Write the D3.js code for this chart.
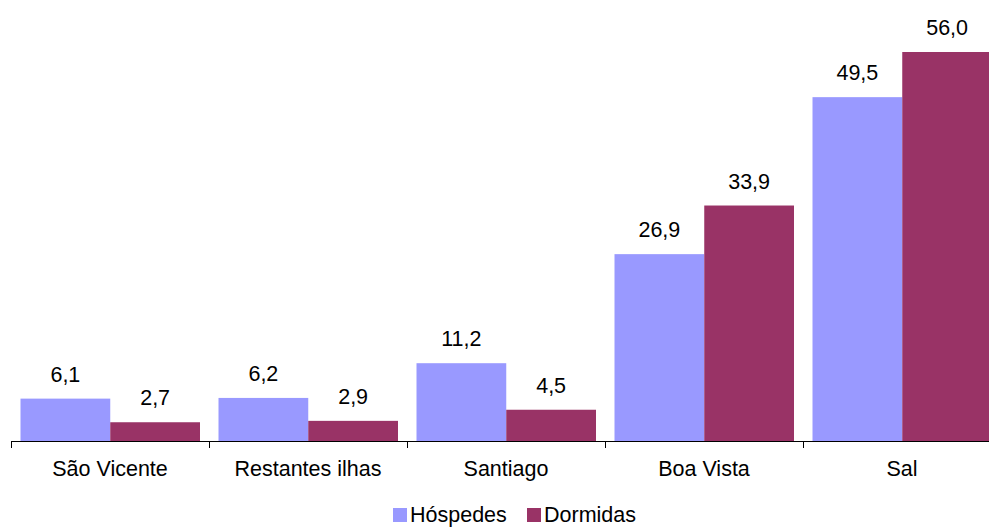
<!DOCTYPE html>
<html>
<head>
<meta charset="utf-8">
<script src="https://cdn.jsdelivr.net/npm/d3@7"></script>
<style>
  html, body { margin: 0; padding: 0; background: #fff; overflow: hidden; }
  text { font-family: "Liberation Sans", Arial, sans-serif; fill: #000; }
</style>
</head>
<body>
<div id="chart"></div>
<script>
// chart data
var categories = ["São Vicente", "Restantes ilhas", "Santiago", "Boa Vista", "Sal"];
var seriesNames = ["Hóspedes", "Dormidas"];
var hospedes = [6.1, 6.2, 11.2, 26.9, 49.5];
var dormidas = [2.7, 2.9, 4.5, 33.9, 56.0];
var colors = ["#9999FF", "#993366"];

var width = 989, height = 529;
var baseY = 441;
var fontSize = "21.5px";

var svg = d3.select("#chart")
  .append("svg")
  .attr("width", width)
  .attr("height", height);

var x = d3.scaleBand()
  .domain(categories)
  .range([11, 1001])
  .padding(0);

var xSub = d3.scaleBand()
  .domain(seriesNames)
  .range([9.5, x.bandwidth() - 9])
  .padding(0);

var y = d3.scaleLinear()
  .domain([0, 56])
  .range([baseY, 52]);

var rows = categories.map(function(c, i) {
  return {cat: c, values: [hospedes[i], dormidas[i]]};
});

var groups = svg.selectAll("g.cat")
  .data(rows)
  .enter().append("g")
  .attr("class", "cat")
  .attr("transform", function(d) { return "translate(" + x(d.cat) + ",0)"; });

groups.selectAll("rect")
  .data(function(d) { return d.values.map(function(v, i) { return {name: seriesNames[i], v: v, i: i}; }); })
  .enter().append("rect")
  .attr("x", function(d) { return xSub(d.name); })
  .attr("y", function(d) { return y(d.v); })
  .attr("width", xSub.bandwidth())
  .attr("height", function(d) { return baseY - y(d.v); })
  .attr("fill", function(d) { return colors[d.i]; });

groups.selectAll("text.val")
  .data(function(d) { return d.values.map(function(v, i) { return {name: seriesNames[i], v: v}; }); })
  .enter().append("text")
  .attr("class", "val")
  .attr("x", function(d) { return xSub(d.name) + xSub.bandwidth() / 2; })
  .attr("y", function(d) { return y(d.v) - 17; })
  .attr("text-anchor", "middle")
  .attr("font-size", fontSize)
  .text(function(d) { return d.v.toFixed(1).replace(".", ","); });

// x axis
var xAxis = d3.axisBottom(x).tickSize(0).tickPadding(20);
var ax = svg.append("g")
  .attr("transform", "translate(0," + baseY + ")")
  .call(xAxis);
ax.attr("font-size", fontSize).attr("font-family", "Liberation Sans, Arial, sans-serif");
ax.select(".domain").attr("stroke", "#000").attr("stroke-width", 1).attr("d", "M11.5,0.5H1001");
ax.selectAll(".tick text")
  .attr("font-size", fontSize)
  .attr("fill", "#000");

// group separator ticks
var edges = categories.map(function(c) { return x(c); });
ax.selectAll("line.sep")
  .data(edges)
  .enter().append("line")
  .attr("class", "sep")
  .attr("x1", function(d) { return Math.round(d) + 0.5; })
  .attr("x2", function(d) { return Math.round(d) + 0.5; })
  .attr("y1", 0)
  .attr("y2", 7)
  .attr("stroke", "#000");

// legend
var legend = svg.append("g").attr("transform", "translate(393,508)");
var lx = [0, 134];
seriesNames.forEach(function(name, i) {
  var g = legend.append("g").attr("transform", "translate(" + lx[i] + ",0)");
  g.append("rect")
    .attr("width", 14)
    .attr("height", 14)
    .attr("fill", colors[i]);
  g.append("text")
    .attr("x", 17)
    .attr("y", 14)
    .attr("font-size", fontSize)
    .text(name);
});
</script>
</body>
</html>
